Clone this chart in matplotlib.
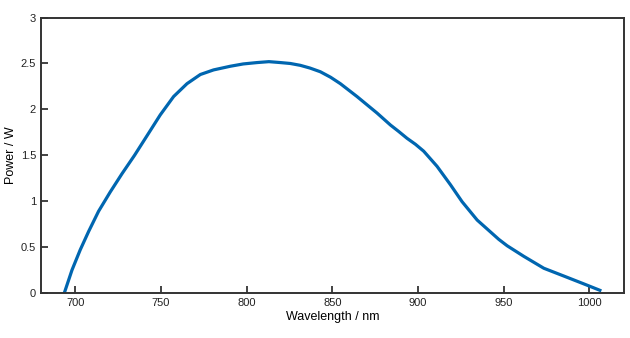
import matplotlib.pyplot as plt

# Spectrum
wavelength = [693.8, 698.1, 702.9, 707.8, 713.6, 720.4, 727.3, 734.6,
              742.8, 749.6, 757.4, 765.2, 773.0, 780.7, 790.5, 798.0,
              806.1, 813.0, 819.7, 825.5, 831.3, 837.0, 843.0, 849.0,
              854.7, 864.4, 876.1, 883.9, 888.7, 893.6, 898.5, 903.3,
              911.1, 918.9, 925.7, 934.5, 942.3, 947.1, 952.0, 961.7,
              973.4, 985.1, 996.7, 1006.1]
power = [0.01, 0.25, 0.47, 0.67, 0.89, 1.10, 1.30, 1.50,
         1.74, 1.94, 2.14, 2.28, 2.38, 2.43, 2.47, 2.495,
         2.51, 2.52, 2.51, 2.50, 2.48, 2.45, 2.41, 2.35,
         2.28, 2.14, 1.96, 1.83, 1.76, 1.685, 1.62, 1.545,
         1.38, 1.18, 0.995, 0.795, 0.665, 0.585, 0.515, 0.40,
         0.27, 0.185, 0.10, 0.03]

x_ticks = [700, 750, 800, 850, 900, 950, 1000]
y_ticks = [0, 0.5, 1, 1.5, 2, 2.5, 3]
y_tick_labels = ["0", "0.5", "1", "1.5", "2", "2.5", "3"]

plt.rcParams["font.family"] = ["Liberation Sans", "DejaVu Sans"]

fig = plt.figure(figsize=(6.3, 3.38), dpi=100)
ax = fig.add_axes([0.065, 0.133, 0.925, 0.815])

ax.plot(wavelength, power, color="#0066b0", linewidth=2.3,
        solid_joinstyle="round")

ax.set_xlim(680, 1020)
ax.set_ylim(0, 3)
ax.set_xticks(x_ticks)
ax.set_yticks(y_ticks)
ax.set_yticklabels(y_tick_labels)

ax.tick_params(direction="in", length=5, width=1.2, labelsize=8,
               colors="#222222", top=False, right=False)
for s in ax.spines.values():
    s.set_linewidth(1.4)
    s.set_color("#333333")

ax.set_xlabel("Wavelength / nm", fontsize=9, labelpad=2)
ax.set_ylabel("Power / W", fontsize=9, labelpad=3)

fig.savefig("out.png", dpi=100)
plt.close(fig)
